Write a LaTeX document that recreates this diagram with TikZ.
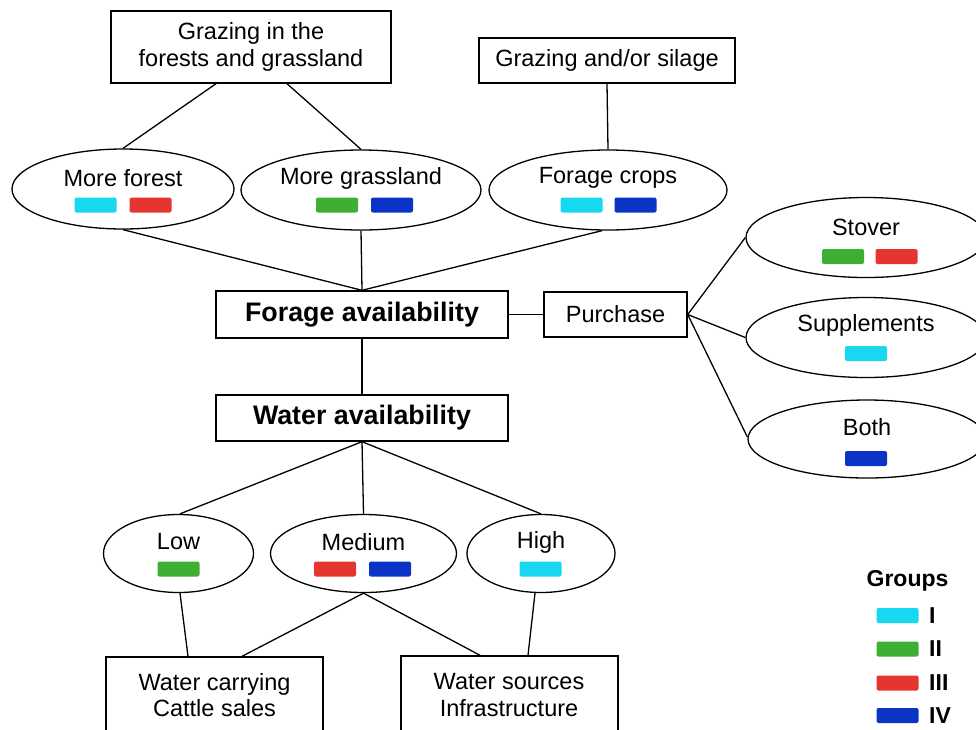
\documentclass[tikz,border=0pt]{standalone}
\usepackage{fontspec}
\setmainfont{Liberation Sans}
\usetikzlibrary{shapes.geometric}
\definecolor{gI}{HTML}{17D8EE}
\definecolor{gII}{HTML}{3DB034}
\definecolor{gIII}{HTML}{E43530}
\definecolor{gIV}{HTML}{0B34C6}
\begin{document}
\begin{tikzpicture}[x=1pt,y=-1pt,
  box/.style={draw, line width=1.4pt, inner sep=0pt, align=center,
    font=\fontsize{23.5}{27}\selectfont},
  oval/.style={draw, ellipse, line width=1.3pt, inner sep=0pt},
  lbl/.style={inner sep=0pt, align=center, font=\fontsize{23.5}{26.5}\selectfont},
  head/.style={font=\bfseries\fontsize{26.8}{30}\selectfont},
  chip/.style={rounded corners=2pt, minimum width=42pt, minimum height=15pt, inner sep=0pt},
  link/.style={line width=1.3pt},
  legtxt/.style={inner sep=0pt, anchor=west, font=\bfseries\fontsize{23}{26}\selectfont}]

\clip (0,0) rectangle (976,729);
\fill[white] (0,0) rectangle (976,729);

% top row: grazing options
\node[box, minimum width=280pt, minimum height=72pt] (graze) at (251,47) {Grazing in the\\forests and grassland};
\node[box, minimum width=256pt, minimum height=45pt] (silage) at (607,60.5) {Grazing and/or silage};

% forage sources
\node[oval, minimum width=222pt, minimum height=80pt] (forest) at (123,189) {};
\node[oval, minimum width=240pt, minimum height=80pt] (grass) at (361,190) {};
\node[oval, minimum width=238pt, minimum height=80pt] (crops) at (608,190) {};
\node[lbl] (forestT) at ([yshift=11pt]forest.center) {More forest};
\node[lbl] (grassT) at ([yshift=12pt]grass.center) {More grassland};
\node[lbl] (cropsT) at ([yshift=12pt]crops.center) {Forage crops};
\node[chip, fill=gI] (forestA) at ([xshift=-27.5pt, yshift=-16pt]forest.center) {};
\node[chip, fill=gIII] (forestB) at ([xshift=27.5pt, yshift=-16pt]forest.center) {};
\node[chip, fill=gII] (grassA) at ([xshift=-24pt, yshift=-15pt]grass.center) {};
\node[chip, fill=gIV] (grassB) at ([xshift=31pt, yshift=-15pt]grass.center) {};
\node[chip, fill=gI] (cropsA) at ([xshift=-26.5pt, yshift=-15pt]crops.center) {};
\node[chip, fill=gIV] (cropsB) at ([xshift=27.5pt, yshift=-15pt]crops.center) {};

% central chain
\node[box, head, minimum width=292pt, minimum height=47pt] (forage) at (362,314.5) {Forage availability};
\node[box, minimum width=143pt, minimum height=45pt] (purchase) at (615.5,314.5) {Purchase};
\node[box, head, minimum width=292pt, minimum height=46pt] (water) at (362,418) {Water availability};

% purchased feed
\node[oval, minimum width=240pt, minimum height=80pt] (stover) at (866,237.5) {};
\node[oval, minimum width=240pt, minimum height=80pt] (supp) at (866,337.5) {};
\node[oval, minimum width=238pt, minimum height=78pt] (both) at (867,439) {};
\node[lbl] (stoverT) at ([yshift=10.5pt]stover.center) {Stover};
\node[lbl] (suppT) at ([yshift=12pt]supp.center) {Supplements};
\node[lbl] (bothT) at ([yshift=12pt]both.center) {Both};
\node[chip, fill=gII] (stoverA) at ([xshift=-23pt, yshift=-19pt]stover.center) {};
\node[chip, fill=gIII] (stoverB) at ([xshift=30.5pt, yshift=-19pt]stover.center) {};
\node[chip, fill=gI] (suppA) at ([yshift=-16pt]supp.center) {};
\node[chip, fill=gIV] (bothA) at ([xshift=-1pt, yshift=-19.5pt]both.center) {};

% water levels
\node[oval, minimum width=150pt, minimum height=78pt] (low) at (178.5,553.5) {};
\node[oval, minimum width=186pt, minimum height=78pt] (medium) at (363.5,553.5) {};
\node[oval, minimum width=148pt, minimum height=78pt] (high) at (541,553.5) {};
\node[lbl] (lowT) at ([yshift=11.5pt]low.center) {Low};
\node[lbl] (mediumT) at ([yshift=11.5pt]medium.center) {Medium};
\node[lbl] (highT) at ([yshift=11.5pt]high.center) {High};
\node[chip, fill=gII] (lowA) at ([yshift=-15.5pt]low.center) {};
\node[chip, fill=gIII] (mediumA) at ([xshift=-28.5pt, yshift=-15.5pt]medium.center) {};
\node[chip, fill=gIV] (mediumB) at ([xshift=26.5pt, yshift=-15.5pt]medium.center) {};
\node[chip, fill=gI] (highA) at ([xshift=-0.5pt, yshift=-15.5pt]high.center) {};

% responses
\node[box, minimum width=217pt, minimum height=110pt] (carry) at (214.5,712) {};
\node[box, minimum width=217pt, minimum height=110pt] (sources) at (509.5,711) {};
\node[lbl] (carryT) at (214.5,695) {Water carrying\\Cattle sales};
\node[lbl] (sourcesT) at (509,695) {Water sources\\Infrastructure};

% connectors
\draw[link] ([xshift=-35pt]graze.south) -- (forest.north);
\draw[link] ([xshift=36pt]graze.south) -- (grass.north);
\draw[link] (silage.south) -- (crops.north);
\draw[link] (forest.south) -- (forage.north);
\draw[link] (grass.south) -- (forage.north);
\draw[link] ([xshift=-6pt]crops.south) -- (forage.north);
\draw[link] (forage.east) -- (purchase.west);
\draw[link] (purchase.east) -- (stover.west);
\draw[link] (purchase.east) -- (supp.west);
\draw[link] (purchase.east) -- ([yshift=2pt]both.west);
\draw[link] (forage.south) -- (water.north);
\draw[link] (water.south) -- ([xshift=1.5pt]low.north);
\draw[link] (water.south) -- (medium.north);
\draw[link] (water.south) -- (high.north);
\draw[link] ([xshift=1.5pt]low.south) -- ([xshift=-26.5pt]carry.north);
\draw[link] (medium.south) -- ([xshift=27.5pt]carry.north);
\draw[link] (medium.south) -- ([xshift=-29.5pt]sources.north);
\draw[link] ([xshift=-6pt]high.south) -- ([xshift=18.5pt]sources.north);

% legend
\node[inner sep=0pt, font=\bfseries\fontsize{23}{26}\selectfont] (legtitle) at (907.5,581) {Groups};
\node[chip, fill=gI] (keyI) at (897.5,615.5) {};
\node[chip, fill=gII] (keyII) at (897.5,649) {};
\node[chip, fill=gIII] (keyIII) at (897.5,683) {};
\node[chip, fill=gIV] (keyIV) at (897.5,715.5) {};
\node[legtxt] (keyIT) at (929,615.5) {I};
\node[legtxt] (keyIIT) at (929,649) {II};
\node[legtxt] (keyIIIT) at (929,683) {III};
\node[legtxt] (keyIVT) at (929,715.5) {IV};
\end{tikzpicture}
\end{document}
